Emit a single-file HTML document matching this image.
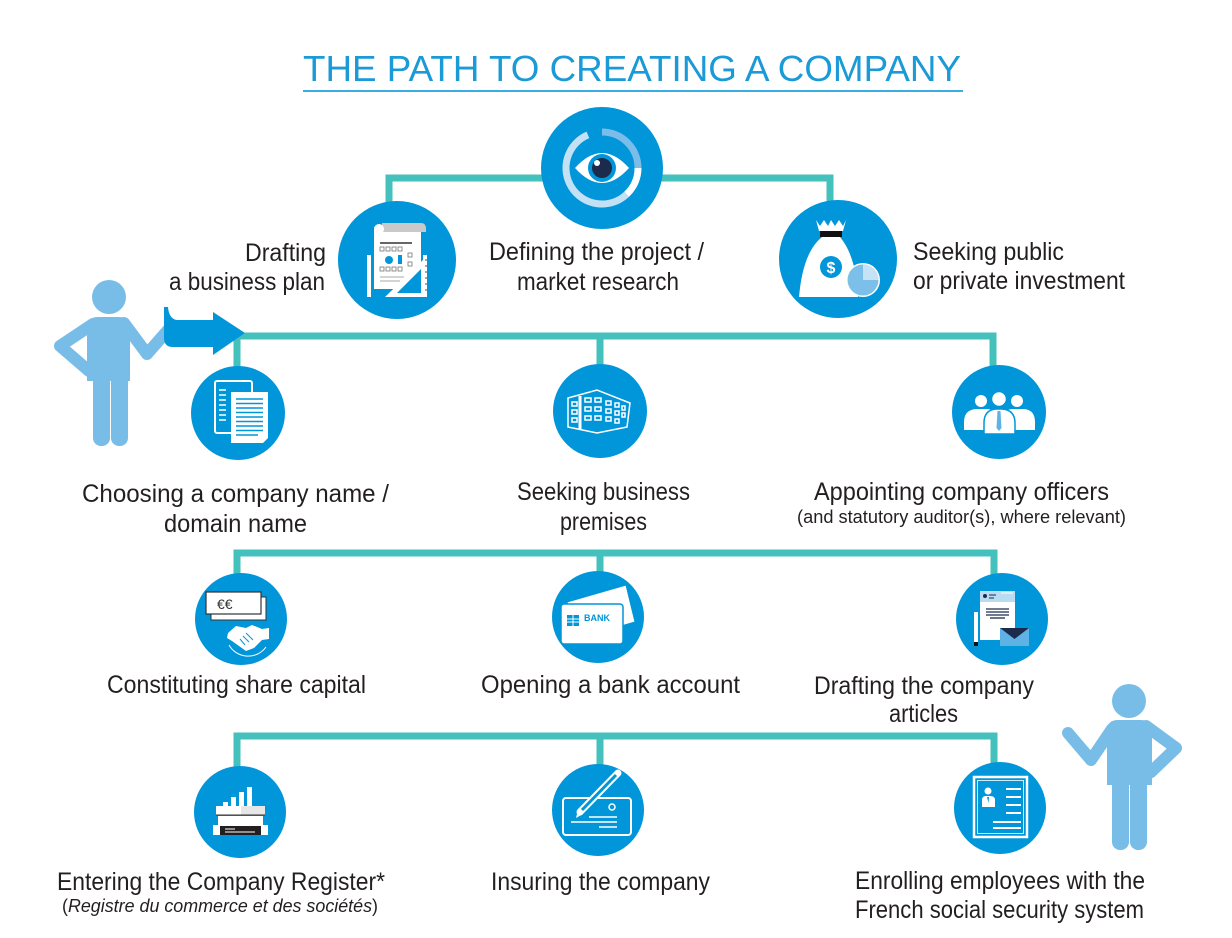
<!DOCTYPE html>
<html><head><meta charset="utf-8"><title>The Path to Creating a Company</title>
<style>
html,body{margin:0;padding:0;background:#fff;}
svg{display:block;}
text{font-family:"Liberation Sans",sans-serif;}
</style></head>
<body>
<svg width="1232" height="938" viewBox="0 0 1232 938" xmlns="http://www.w3.org/2000/svg">
<rect width="1232" height="938" fill="#fff"/>

<!-- Title -->
<text x="303" y="81" font-size="36" fill="#1a9ad6" textLength="658" lengthAdjust="spacingAndGlyphs">THE PATH TO CREATING A COMPANY</text>
<rect x="303" y="90" width="660" height="2" fill="#3aaee3"/>

<!-- Connectors -->
<g fill="none" stroke="#45c1bd" stroke-width="7">
  <path d="M389,210 V178 H830 V210"/>
  <path d="M237,372 V336 H993 V372"/>
  <path d="M600,336 V370"/>
  <path d="M237,580 V553 H994 V580"/>
  <path d="M600,553 V575"/>
  <path d="M237,770 V736 H994 V770"/>
  <path d="M600,736 V768"/>
</g>

<!-- Circles -->
<g fill="#0096d9">
  <circle cx="602" cy="168" r="61"/>
  <circle cx="397" cy="260" r="59"/>
  <circle cx="838" cy="259" r="59"/>
  <circle cx="238" cy="413" r="47"/>
  <circle cx="600" cy="411" r="47"/>
  <circle cx="999" cy="412" r="47"/>
  <circle cx="241" cy="619" r="46"/>
  <circle cx="598" cy="617" r="46"/>
  <circle cx="1002" cy="619" r="46"/>
  <circle cx="240" cy="812" r="46"/>
  <circle cx="598" cy="810" r="46"/>
  <circle cx="1000" cy="808" r="46"/>
</g>

<!-- Eye icon -->
<g fill="none" stroke-width="7">
  <path d="M626.6,194.3 A36,36 0 1 1 587.9,134.9" stroke="#c3e1f4"/>
  <path d="M602,132 A36,36 0 0 1 638,168" stroke="#79bde8"/>
  <path d="M638,168 A36,36 0 0 1 626.6,194.3" stroke="#ffffff"/>
</g>
<path d="M575,168 Q602,138 629,168 Q602,198 575,168 Z" fill="#fff"/>
<circle cx="602" cy="168" r="14" fill="#0096d9"/>
<circle cx="602" cy="168" r="10" fill="#1c2b4b"/>
<circle cx="597" cy="163" r="3" fill="#fff"/>

<!-- Business plan icon -->
<g>
  <rect x="374" y="227" width="47" height="62" fill="#fff"/>
  <path d="M382,223 H421 Q426,223 426,229 V232 H382 Z" fill="#c9c9c9"/>
  <circle cx="379" cy="229" r="5" fill="#fff"/>
  <line x1="380" y1="243" x2="412" y2="243" stroke="#333" stroke-width="1.5"/>
  <g fill="none" stroke="#777" stroke-width="0.8">
    <rect x="380" y="247" width="4" height="4"/><rect x="386" y="247" width="4" height="4"/><rect x="392" y="247" width="4" height="4"/><rect x="398" y="247" width="4" height="4"/>
    <rect x="380" y="267" width="4" height="4"/><rect x="386" y="267" width="4" height="4"/><rect x="392" y="267" width="4" height="4"/><rect x="398" y="267" width="4" height="4"/>
    <rect x="408" y="253" width="4" height="4"/><rect x="408" y="262" width="4" height="4"/>
  </g>
  <circle cx="389" cy="260" r="4" fill="#0096d9"/>
  <rect x="398" y="255" width="4" height="9" fill="#0096d9"/>
  <line x1="380" y1="277" x2="404" y2="277" stroke="#aaa" stroke-width="1"/>
  <line x1="380" y1="281" x2="400" y2="281" stroke="#aaa" stroke-width="1"/>
  <rect x="367" y="255" width="4" height="42" fill="#fff"/>
  <path d="M385,297 L425,258 L425,297 Z" fill="#fff"/>
  <path d="M397,293 L421,269 L421,293 Z" fill="#0096d9"/>
  <rect x="423" y="255" width="4" height="42" fill="#fff"/>
  <g stroke="#222" stroke-width="0.8">
    <line x1="425" y1="260" x2="427" y2="260"/><line x1="425" y1="266" x2="427" y2="266"/><line x1="425" y1="272" x2="427" y2="272"/><line x1="425" y1="278" x2="427" y2="278"/><line x1="425" y1="284" x2="427" y2="284"/><line x1="425" y1="290" x2="427" y2="290"/>
  </g>
</g>

<!-- Money bag icon -->
<g>
  <path d="M816,220 L820,226 L824,220 L828,226 L831,220 L835,226 L839,220 L843,226 L846,220 L843,231 H819 Z" fill="#fff"/>
  <rect x="820" y="231" width="22" height="6" fill="#111"/>
  <path d="M822,237 C806,250 801,275 799,297 H858 C857,278 854,254 840,237 Z" fill="#fff"/>
  <circle cx="831" cy="267" r="11" fill="#0096d9"/>
  <text x="831" y="273" font-size="16" font-weight="bold" fill="#fff" text-anchor="middle">$</text>
  <circle cx="863" cy="280" r="17" fill="#fff"/>
  <circle cx="863" cy="280" r="15.5" fill="#7cbfe8"/>
  <path d="M863,280 L863,264.5 A15.5,15.5 0 0 1 878.5,280 Z" fill="#c6e2f5"/>
</g>

<!-- Documents icon -->
<g>
  <rect x="215" y="381" width="37" height="52" rx="2" fill="#0096d9" stroke="#fff" stroke-width="2"/>
  <g stroke="#fff" stroke-width="1.5">
    <line x1="219" y1="390" x2="226" y2="390"/><line x1="219" y1="395" x2="226" y2="395"/><line x1="219" y1="400" x2="226" y2="400"/><line x1="219" y1="405" x2="226" y2="405"/><line x1="219" y1="410" x2="226" y2="410"/><line x1="219" y1="415" x2="226" y2="415"/><line x1="219" y1="420" x2="226" y2="420"/>
  </g>
  <path d="M231,392 H268 V438 L263,443 H231 Z" fill="#fff"/>
  <g stroke="#0096d9" stroke-width="1.5">
    <line x1="236" y1="399" x2="263" y2="399"/><line x1="236" y1="403.5" x2="263" y2="403.5"/><line x1="236" y1="408" x2="263" y2="408"/><line x1="236" y1="412.5" x2="263" y2="412.5"/><line x1="236" y1="417" x2="263" y2="417"/><line x1="236" y1="421.5" x2="263" y2="421.5"/><line x1="236" y1="426" x2="263" y2="426"/><line x1="236" y1="430.5" x2="263" y2="430.5"/><line x1="236" y1="435" x2="258" y2="435"/>
  </g>
</g>

<!-- Building icon -->
<g fill="none" stroke="#fff" stroke-width="1.5">
  <path d="M568,398 L597,390 L630,403 L627,427 L597,433 L568,427 Z"/>
  <line x1="580" y1="396" x2="580" y2="430" stroke-width="3"/>
  <rect x="572" y="402" width="5" height="4"/><rect x="572" y="410" width="5" height="4"/><rect x="572" y="418" width="5" height="4"/>
  <rect x="585" y="398" width="6" height="4"/><rect x="585" y="407" width="6" height="4"/><rect x="585" y="416" width="6" height="4"/>
  <rect x="595" y="398" width="6" height="4"/><rect x="595" y="407" width="6" height="4"/><rect x="595" y="416" width="6" height="4"/>
  <rect x="606" y="401" width="5" height="4"/><rect x="606" y="409" width="5" height="4"/><rect x="606" y="417" width="5" height="4"/>
  <rect x="615" y="403" width="4" height="4"/><rect x="615" y="411" width="4" height="4"/><rect x="615" y="419" width="4" height="4"/>
  <rect x="622" y="406" width="3" height="4"/><rect x="622" y="413" width="3" height="4"/>
</g>

<!-- People icon -->
<g fill="#fff">
  <circle cx="981" cy="401" r="6"/>
  <circle cx="1017" cy="401" r="6"/>
  <path d="M964,430 V422 Q964,410 976,409 H988 Q996,410 996,422 V430 Z"/>
  <path d="M1002,430 V422 Q1002,410 1012,409 H1024 Q1035,410 1035,422 V430 Z"/>
  <circle cx="999" cy="399" r="7.5" stroke="#0096d9" stroke-width="1.5"/>
  <path d="M984,434 V423 Q984,410 996,409 H1002 Q1015,410 1015,423 V434 Z" stroke="#0096d9" stroke-width="1.5"/>
  <path d="M997.5,411 H1000.5 L1001.5,428 L999,431 L996.5,428 Z" fill="#5fb3e4"/>
</g>

<!-- Share capital icon -->
<g>
  <rect x="211" y="597" width="55" height="23" fill="#fff" stroke="#333" stroke-width="1"/>
  <rect x="206" y="592" width="55" height="22" fill="#fff" stroke="#333" stroke-width="1.2"/>
  <text x="217" y="609" font-size="14" fill="#333">€€</text>
  <path d="M228,633 L236,626 L246,628 L252,625 L262,629 L269,628 L269,639 L262,640 L254,648 L246,651 L239,646 L232,641 L227,638 Z" fill="#fff"/>
  <g stroke="#0096d9" stroke-width="1"><line x1="243" y1="636" x2="249" y2="642"/><line x1="246" y1="633" x2="253" y2="640"/><line x1="240" y1="639" x2="245" y2="645"/></g>
  <path d="M229,645 A22,22 0 0 0 266,647" fill="none" stroke="#fff" stroke-width="1"/>
</g>

<!-- Bank icon -->
<g>
  <path d="M567,602 L626,585 L635,622 L576,639 Z" fill="#fff" stroke="#0096d9" stroke-width="1"/>
  <rect x="561" y="604" width="62" height="40" rx="3" fill="#fff" stroke="#0096d9" stroke-width="1.5"/>
  <rect x="567" y="615" width="12" height="11" fill="#0096d9"/>
  <g stroke="#fff" stroke-width="1"><line x1="567" y1="619" x2="579" y2="619"/><line x1="567" y1="622" x2="579" y2="622"/><line x1="573" y1="615" x2="573" y2="626"/></g>
  <text x="584" y="621" font-size="9" font-weight="bold" fill="#0096d9">BANK</text>
</g>

<!-- Articles icon -->
<g>
  <rect x="980" y="591" width="35" height="49" fill="#fff"/>
  <rect x="980" y="591" width="35" height="11" fill="#b9dcf3"/>
  <circle cx="985" cy="596" r="2" fill="#1c2b4b"/>
  <line x1="989" y1="595" x2="996" y2="595" stroke="#1c2b4b" stroke-width="1"/>
  <line x1="989" y1="598" x2="994" y2="598" stroke="#1c2b4b" stroke-width="1"/>
  <line x1="1001" y1="593" x2="1013" y2="593" stroke="#fff" stroke-width="1"/>
  <g stroke="#1c2b4b" stroke-width="1.3">
    <line x1="986" y1="609" x2="1009" y2="609"/><line x1="986" y1="612" x2="1009" y2="612"/><line x1="986" y1="615" x2="1009" y2="615"/><line x1="990" y1="618" x2="1005" y2="618"/>
  </g>
  <rect x="974" y="612" width="4" height="33" fill="#fff"/>
  <rect x="974" y="642" width="4" height="4" fill="#111"/>
  <rect x="1000" y="628" width="29" height="18" fill="#5fb3e4"/>
  <path d="M1000,628 L1029,628 L1014.5,639 Z" fill="#1c2b4b"/>
</g>

<!-- Register icon -->
<g>
  <rect x="223" y="802" width="5" height="5" fill="#fff"/>
  <rect x="231" y="797" width="5" height="10" fill="#fff"/>
  <rect x="239" y="792" width="5" height="15" fill="#fff"/>
  <rect x="247" y="787" width="5" height="20" fill="#fff"/>
  <rect x="216" y="806" width="49" height="9" fill="#fff"/>
  <rect x="241" y="806" width="24" height="9" fill="#e6e6e6"/>
  <line x1="216" y1="815" x2="265" y2="815" stroke="#333" stroke-width="1"/>
  <rect x="218" y="816" width="45" height="10" fill="#fff"/>
  <rect x="213" y="825" width="55" height="10" fill="#fff"/>
  <rect x="220" y="826" width="41" height="9" fill="#231f20"/>
  <line x1="225" y1="829" x2="235" y2="829" stroke="#fff" stroke-width="1"/>
  <line x1="225" y1="832" x2="255" y2="832" stroke="#fff" stroke-width="1"/>
</g>

<!-- Insuring icon -->
<g>
  <rect x="563" y="798" width="68" height="37" rx="3" fill="none" stroke="#fff" stroke-width="2"/>
  <circle cx="612" cy="807" r="3" fill="none" stroke="#fff" stroke-width="1.5"/>
  <g stroke="#fff" stroke-width="1.5">
    <line x1="589" y1="817" x2="617" y2="817"/><line x1="571" y1="822" x2="617" y2="822"/><line x1="599" y1="827" x2="617" y2="827"/>
  </g>
  <line x1="580" y1="812" x2="618" y2="773" stroke="#fff" stroke-width="7" stroke-linecap="round"/>
  <line x1="582" y1="810" x2="616" y2="775" stroke="#0096d9" stroke-width="3"/>
  <path d="M576,818 L578,810 L583,814 Z" fill="#fff"/>
</g>

<!-- Enroll icon -->
<g>
  <rect x="974" y="777" width="53" height="60" fill="none" stroke="#fff" stroke-width="2.5"/>
  <rect x="977.5" y="780.5" width="46" height="53" fill="none" stroke="#fff" stroke-width="0.8"/>
  <circle cx="988" cy="791" r="3.5" fill="#fff"/>
  <path d="M982,807 V800 Q982,796 986,796 H990 Q995,796 995,800 V807 Z" fill="#fff"/>
  <path d="M987,797 L989,797 L988.5,803 Z" fill="#0096d9"/>
  <g stroke="#fff" stroke-width="2">
    <line x1="1006" y1="789" x2="1021" y2="789"/><line x1="1006" y1="797" x2="1021" y2="797"/><line x1="1006" y1="805" x2="1021" y2="805"/><line x1="1006" y1="813" x2="1021" y2="813"/>
    <line x1="993" y1="822" x2="1021" y2="822"/><line x1="993" y1="828" x2="1021" y2="828"/>
  </g>
</g>

<!-- Left person -->
<g fill="#78bde8">
  <circle cx="109" cy="297" r="17"/>
  <path d="M87,381 V328 Q87,317 98,317 H119 Q130,317 130,328 V381 Z"/>
  <rect x="93" y="372" width="17" height="74" rx="8"/>
  <rect x="111" y="372" width="17" height="74" rx="8"/>
</g>
<g fill="none" stroke="#78bde8" stroke-width="12" stroke-linecap="round" stroke-linejoin="round">
  <polyline points="93,324 60,346 89,371"/>
  <polyline points="124,323 147,354 168,330"/>
</g>

<!-- Right person -->
<g fill="#78bde8">
  <circle cx="1129" cy="701" r="17"/>
  <path d="M1107,785 V731 Q1107,720 1118,720 H1141 Q1152,720 1152,731 V785 Z"/>
  <rect x="1112" y="776" width="17" height="74" rx="8"/>
  <rect x="1130" y="776" width="17" height="74" rx="8"/>
</g>
<g fill="none" stroke="#78bde8" stroke-width="12" stroke-linecap="round" stroke-linejoin="round">
  <polyline points="1112,729 1091,760 1068,733"/>
  <polyline points="1146,726 1176,748 1151,772"/>
</g>

<!-- Arrow -->
<path d="M164,307 L168,307 Q169,319 177,320 L213,320 L213,312 L245,333 L213,355 L213,347 L173,347 Q164,347 164,338 Z" fill="#0096d9"/>

<!-- Labels -->
<g font-size="25" fill="#231f20">
  <text x="245" y="261" textLength="81" lengthAdjust="spacingAndGlyphs">Drafting</text>
  <text x="169" y="290" textLength="156" lengthAdjust="spacingAndGlyphs">a business plan</text>
  <text x="489" y="260" textLength="215" lengthAdjust="spacingAndGlyphs">Defining the project /</text>
  <text x="517" y="290" textLength="162" lengthAdjust="spacingAndGlyphs">market research</text>
  <text x="913" y="260" textLength="151" lengthAdjust="spacingAndGlyphs">Seeking public</text>
  <text x="913" y="289" textLength="212" lengthAdjust="spacingAndGlyphs">or private investment</text>

  <text x="82" y="502" textLength="307" lengthAdjust="spacingAndGlyphs">Choosing a company name /</text>
  <text x="164" y="532" textLength="143" lengthAdjust="spacingAndGlyphs">domain name</text>
  <text x="517" y="500" textLength="173" lengthAdjust="spacingAndGlyphs">Seeking business</text>
  <text x="560" y="530" textLength="87" lengthAdjust="spacingAndGlyphs">premises</text>
  <text x="814" y="500" textLength="295" lengthAdjust="spacingAndGlyphs">Appointing company officers</text>

  <text x="107" y="693" textLength="259" lengthAdjust="spacingAndGlyphs">Constituting share capital</text>
  <text x="481" y="693" textLength="259" lengthAdjust="spacingAndGlyphs">Opening a bank account</text>
  <text x="814" y="694" textLength="220" lengthAdjust="spacingAndGlyphs">Drafting the company</text>
  <text x="889" y="722" textLength="69" lengthAdjust="spacingAndGlyphs">articles</text>

  <text x="57" y="890" textLength="328" lengthAdjust="spacingAndGlyphs">Entering the Company Register*</text>
  <text x="491" y="890" textLength="219" lengthAdjust="spacingAndGlyphs">Insuring the company</text>
  <text x="855" y="889" textLength="290" lengthAdjust="spacingAndGlyphs">Enrolling employees with the</text>
  <text x="855" y="918" textLength="289" lengthAdjust="spacingAndGlyphs">French social security system</text>
</g>
<g font-size="18" fill="#231f20">
  <text x="797" y="523" textLength="329" lengthAdjust="spacingAndGlyphs">(and statutory auditor(s), where relevant)</text>
  <text x="62" y="912" textLength="316" lengthAdjust="spacingAndGlyphs"><tspan>(</tspan><tspan font-style="italic">Registre du commerce et des sociétés</tspan><tspan>)</tspan></text>
</g>
</svg>
</body></html>
